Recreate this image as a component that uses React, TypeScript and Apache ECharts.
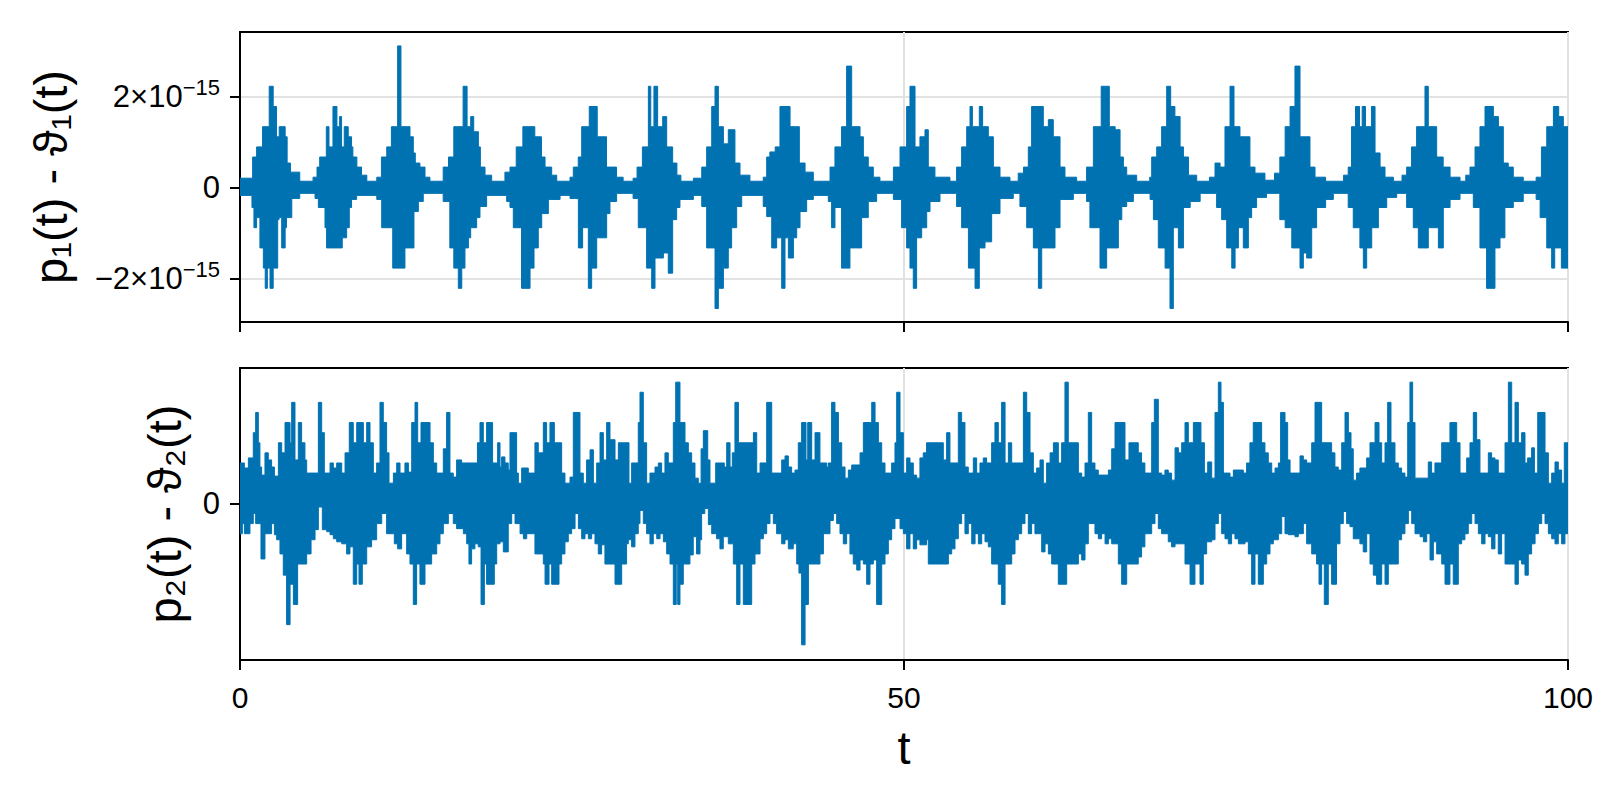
import React, { useEffect, useRef } from "react";
import * as echarts from "echarts";

const EPS = 2.220446049250313e-16;

const X_TICKS = [0, 50, 100];
const TOP_Y_TICKS = [-2e-15, 0, 2e-15];
const BOTTOM_Y_TICKS = [0];

// p1(t) - θ1(t): upper envelope [t, value in EPS units]
const TOP_UPPER: [number, number][] = [
  [0, 0.9], [0.95, 3], [1.25, 4], [1.7, 6], [2.2, 10], [2.5, 8], [2.75, 5], [2.95, 6], [3.4, 5], [3.55, 2.4], [3.8, 1.5], [4.5, 0.6],
  [5.5, 1], [5.8, 2], [6.0, 3], [6.5, 6], [6.7, 4], [7.0, 8], [7.3, 6], [7.5, 7], [7.65, 4], [7.85, 6], [8.15, 5], [8.4, 4], [8.5, 3], [8.8, 2], [9.15, 1.2], [9.55, 0.6],
  [10.3, 1], [10.65, 3], [11.05, 4], [11.4, 6], [11.87, 14], [12.12, 6], [12.8, 5], [13.05, 3.4], [13.2, 2.4], [13.55, 2], [13.93, 1], [14.3, 0.6],
  [15.3, 2], [15.7, 3], [16.1, 6], [16.8, 10], [17.1, 6], [17.37, 7], [17.6, 5.5], [17.95, 4], [18.1, 2], [18.45, 1.2], [18.95, 0.6],
  [19.95, 1.5], [20.33, 2], [20.8, 4], [21.3, 6], [22.2, 5], [22.7, 3], [22.97, 2], [23.47, 1.2], [23.85, 0.6],
  [24.85, 1], [25.1, 2], [25.47, 3], [25.73, 6], [26.3, 8], [26.9, 5], [27.6, 2], [28.35, 1], [28.85, 0.6],
  [29.6, 0.9], [29.9, 2], [30.3, 4], [30.75, 10], [30.93, 6], [31.17, 10], [31.45, 6], [31.83, 7], [32.13, 4], [32.58, 2.4], [32.9, 1.2], [33.2, 0.6],
  [34.14, 0.9], [34.77, 2], [35.14, 4], [35.52, 8], [35.77, 10], [36.02, 6], [36.4, 4.3], [36.77, 5.7], [37.27, 2.4], [37.65, 1.2], [38.4, 0.6],
  [39.4, 1], [39.66, 3], [39.9, 3.5], [40.3, 4], [40.66, 8], [41.42, 6], [42.12, 2.4], [42.55, 1.5], [43.17, 0.6],
  [44.43, 2], [44.8, 4], [45.3, 6], [45.68, 12], [46.06, 6], [46.69, 5], [46.94, 3], [47.31, 2], [47.69, 1], [48.19, 0.6],
  [49.2, 2], [49.7, 4], [50.2, 8], [50.45, 10], [50.83, 4], [51.2, 5], [51.58, 5.7], [51.83, 2], [52.33, 1], [53.46, 0.6],
  [53.96, 2], [54.34, 4], [54.72, 6], [54.97, 8], [55.15, 6], [55.67, 8], [55.92, 6], [56.35, 5], [56.73, 2], [57.23, 1], [57.98, 0.6],
  [58.6, 1.4], [59.0, 2], [59.36, 4], [59.61, 8], [60.49, 6], [60.87, 6.7], [61.24, 5], [61.75, 2], [62.12, 1], [63.0, 0.6],
  [63.75, 2], [64.26, 6], [64.85, 10], [65.46, 6], [65.9, 5.7], [66.27, 3], [66.52, 2], [66.77, 1.2], [67.52, 0.6],
  [68.5, 1], [68.65, 3], [69.03, 4], [69.4, 6], [69.78, 10], [70.08, 8], [70.4, 7], [70.79, 4], [71.04, 3], [71.42, 1.2], [72.04, 0.6],
  [73.0, 1], [73.42, 2.4], [73.8, 2], [74.17, 6], [74.55, 10], [74.85, 6], [75.3, 5], [76.05, 2], [76.43, 1.4], [77.18, 0.7],
  [77.9, 1.4], [78.3, 3], [78.7, 6], [79.07, 8], [79.44, 12], [79.82, 5], [80.2, 5], [80.57, 2], [80.95, 1], [81.75, 0.6],
  [83.1, 1.2], [83.45, 2], [83.7, 6], [84.0, 8], [84.3, 6], [84.5, 8], [84.75, 6], [85.2, 8], [85.47, 3.4], [85.85, 2], [86.22, 1], [86.85, 0.6],
  [87.5, 1.2], [87.85, 2], [88.22, 4], [88.6, 6], [89.23, 10], [89.48, 6], [90.11, 3], [90.6, 2], [91.12, 1], [91.87, 0.6],
  [92.3, 1.2], [92.62, 2], [93.0, 4], [93.37, 6], [93.75, 8], [94.38, 7], [94.76, 6], [95.13, 2.4], [95.5, 2], [95.88, 1], [96.63, 0.6],
  [97.6, 1], [98.0, 4], [98.4, 6], [98.9, 8], [99.3, 7], [99.65, 6], [100, 6],
];

// p1(t) - θ1(t): lower envelope
const TOP_LOWER: [number, number][] = [
  [0, -0.8], [0.9, -2], [1.05, -4], [1.25, -3], [1.5, -6], [1.76, -8], [1.9, -10], [2.06, -8], [2.26, -10], [2.5, -8], [2.84, -3.2], [2.94, -3], [3.14, -6], [3.4, -4], [3.5, -3], [3.9, -1.1], [4.5, -0.6],
  [5.65, -1.1], [5.9, -2], [6.4, -4], [6.52, -6], [7.7, -5], [8.03, -4], [8.23, -2], [8.4, -1.2], [8.78, -0.8],
  [10.3, -1.2], [10.67, -4], [11.5, -8], [12.42, -6], [13.1, -2.4], [13.43, -1.4], [13.8, -0.6],
  [15.3, -1.4], [15.8, -6], [16.1, -8], [16.44, -10], [16.7, -8], [16.94, -6], [17.2, -5], [17.37, -4], [17.82, -3], [18.07, -1.9], [18.57, -0.8],
  [20.08, -1.4], [20.33, -2], [20.58, -4], [21.2, -10], [21.84, -8], [22.14, -6], [22.46, -4], [22.72, -2.6], [23.22, -1.2], [24.1, -0.8],
  [24.85, -1.1], [25.48, -6], [25.8, -4], [26.23, -10], [26.48, -8], [26.86, -5], [27.61, -2.6], [27.86, -1.4], [28.36, -0.6],
  [29.6, -1.1], [29.99, -4], [30.62, -8], [31.0, -10], [31.25, -7], [31.88, -6.5], [32.25, -8.5], [32.58, -3.2], [32.88, -2], [33.13, -1.2], [34.14, -0.8],
  [34.77, -1.9], [35.14, -6], [35.77, -12], [36.02, -10], [36.4, -8], [36.77, -6], [37.02, -4], [37.4, -1.9], [37.78, -0.8],
  [39.4, -1.9], [39.66, -2.9], [40.04, -6], [40.41, -5], [40.79, -10], [41.04, -5], [41.29, -7], [41.67, -5], [41.92, -4], [42.17, -2.4], [42.67, -1.2], [43.17, -0.8],
  [44.3, -1.4], [44.55, -4], [44.8, -2], [45.3, -8], [45.93, -6], [46.81, -3], [47.31, -1.4], [47.94, -0.6],
  [49.2, -1.2], [49.82, -4], [50.2, -6], [50.45, -8], [50.7, -10], [50.95, -5], [51.33, -4], [51.71, -2.4], [51.96, -1.4], [52.71, -0.6],
  [53.96, -1.9], [54.34, -4], [54.85, -8], [55.35, -10], [55.67, -6], [56.1, -5.4], [56.6, -2.6], [57.23, -1.1], [58.23, -0.6],
  [58.73, -1.9], [59.24, -4], [59.74, -6], [60.12, -10], [60.37, -6], [61.37, -4], [61.75, -1.2], [62.75, -0.6],
  [63.75, -1.4], [64.0, -4], [64.76, -8], [65.26, -6], [66.14, -3.2], [66.4, -1.9], [66.77, -1.4], [67.27, -0.6],
  [68.53, -1.2], [68.78, -3.2], [69.15, -6], [69.66, -8], [70.03, -12], [70.28, -4], [70.66, -6], [71.04, -2], [71.55, -1.4], [72.3, -0.6],
  [73.54, -2], [73.92, -3.2], [74.3, -6], [74.68, -8], [74.93, -6], [75.18, -4], [75.55, -6], [75.93, -3], [76.18, -2], [76.55, -1], [77.3, -0.6],
  [78.3, -3.2], [78.7, -4], [79.2, -6], [79.82, -8], [80.07, -6.5], [80.32, -7], [80.7, -4], [81.07, -2], [81.75, -1.2], [82.33, -0.6],
  [83.45, -2], [83.83, -4], [84.33, -6], [84.59, -8], [84.84, -6], [85.22, -4], [85.72, -2], [86.35, -1], [87.1, -0.6],
  [87.85, -2], [88.35, -4], [88.73, -6], [89.48, -4], [90.24, -6], [90.61, -2], [91.12, -1.2], [91.87, -0.6],
  [92.87, -2], [93.37, -6], [93.87, -10], [94.5, -6], [94.88, -5], [95.25, -2], [95.88, -1.4], [96.63, -0.6],
  [97.6, -1.2], [97.9, -3], [98.4, -6], [98.77, -8], [99.0, -6], [99.5, -8], [100, -8],
];

// p2(t) - θ2(t): upper envelope
const BOTTOM_UPPER: [number, number][] = [
  [0, 4], [0.33, 3.5], [0.63, 4.5], [1.0, 7], [1.18, 9], [1.38, 6], [1.5, 3.6], [1.63, 2.8], [1.88, 5], [2.13, 4.3], [2.38, 3.6], [2.59, 2.7],
  [2.89, 6], [3.14, 5], [3.39, 8], [3.77, 6], [3.89, 10], [4.14, 4.3], [4.39, 8], [4.64, 6], [4.89, 4.3], [5.02, 3], [5.9, 10], [6.15, 7],
  [6.35, 3], [6.78, 4], [7.03, 3.5], [7.28, 4], [7.66, 3], [7.91, 5], [8.23, 8], [8.53, 6], [8.79, 8], [9.29, 6], [9.54, 8], [9.79, 6],
  [10.04, 3], [10.29, 4], [10.54, 10], [10.79, 8], [11.04, 5], [11.22, 2], [11.55, 3], [11.8, 4], [12.05, 3], [12.42, 4], [12.68, 3.1],
  [12.93, 8], [13.18, 10], [13.38, 6], [13.63, 8], [14.31, 6], [14.56, 4], [14.81, 3], [15.31, 5.4], [15.56, 9], [15.81, 3], [16.06, 2.6],
  [16.31, 4.3], [16.69, 4], [17.88, 6], [18.07, 8], [18.32, 6], [18.57, 8], [19.02, 4], [19.4, 6], [19.58, 3.6], [19.7, 4.6], [19.95, 4],
  [20.2, 3.3], [20.33, 7], [20.83, 3], [20.96, 2], [21.21, 3.5], [21.71, 3], [22.21, 6], [22.46, 5], [22.84, 8], [23.09, 6], [23.34, 8],
  [23.67, 6], [24.22, 3], [24.47, 2], [24.85, 2.6], [25.1, 9], [25.6, 3], [25.85, 2], [26.1, 4.3], [26.36, 5.3], [26.61, 2], [26.86, 4],
  [27.11, 7], [27.36, 4.3], [27.61, 8], [27.86, 6.3], [28.24, 4.3], [28.49, 6], [29.29, 2], [29.49, 4], [29.99, 8], [30.12, 11], [30.37, 6],
  [30.62, 2], [30.87, 3], [31.25, 3.6], [31.5, 4], [31.75, 3], [32.0, 5], [32.25, 4], [32.63, 8], [32.81, 12], [33.13, 8], [33.51, 6],
  [33.76, 5], [34.01, 4], [34.26, 2.5], [34.51, 2], [34.72, 5.4], [34.89, 7.2], [35.22, 4.3], [35.39, 2], [35.82, 4], [36.47, 3.6],
  [36.65, 6], [36.9, 3.6], [37.07, 5], [37.27, 10], [37.53, 6], [38.66, 7], [38.91, 3], [39.16, 4], [39.66, 10], [40.04, 3], [40.79, 4.3],
  [41.04, 4.7], [41.29, 3.6], [41.54, 3], [41.79, 3.3], [42.04, 6], [42.29, 8], [42.62, 4.3], [42.75, 8], [43.05, 4.3], [43.3, 7],
  [43.67, 4], [44.18, 3.6], [44.3, 4], [44.55, 10], [44.8, 9], [45.06, 6], [45.31, 3.6], [45.56, 2.5], [45.81, 3.3], [46.06, 3.8],
  [46.69, 5], [46.94, 8], [47.57, 10], [47.82, 8], [48.07, 6], [48.32, 4], [48.57, 3], [49.07, 4], [49.32, 6], [49.45, 11], [49.7, 7],
  [49.95, 3], [50.2, 4.5], [50.45, 4], [50.7, 2.8], [50.95, 2.5], [51.2, 4.5], [51.45, 5], [51.7, 6], [52.96, 4.3], [53.21, 7], [53.46, 4],
  [54.09, 9], [54.34, 8], [54.59, 3.6], [54.84, 3], [55.22, 4.5], [55.47, 3], [55.72, 4], [55.97, 4.5], [56.22, 4], [56.6, 6], [56.85, 8],
  [57.1, 6], [57.35, 10], [57.61, 4], [57.86, 6], [58.11, 4], [58.99, 11], [59.24, 9], [59.49, 5], [59.74, 3], [59.99, 3.5], [60.24, 4.3],
  [60.49, 2], [60.74, 4], [61.0, 5], [61.25, 6], [61.62, 4], [61.87, 6], [62.12, 12], [62.37, 6], [63.13, 3], [63.38, 2.6], [63.63, 4],
  [63.88, 9], [64.13, 4], [64.38, 3.3], [64.63, 2.8], [65.39, 3.3], [65.64, 5.4], [65.89, 8], [66.64, 4.3], [66.94, 6], [67.64, 5],
  [67.89, 4], [68.14, 3], [68.65, 8], [68.85, 10.3], [69.15, 3], [69.4, 2.8], [69.65, 3.3], [69.9, 3], [70.15, 2.3], [70.41, 5.5],
  [70.66, 5], [70.91, 6], [71.16, 8], [71.41, 6], [71.79, 8], [72.36, 6], [72.62, 3], [72.87, 4.1], [73.17, 2.5], [73.42, 9], [73.67, 12],
  [73.87, 10], [74.05, 3], [74.55, 2.6], [74.8, 3.3], [75.55, 3], [75.8, 4], [76.05, 6], [76.3, 8], [76.93, 6], [77.18, 5], [77.43, 4],
  [77.69, 3], [77.94, 3.5], [78.19, 4], [78.36, 9], [78.69, 8], [78.89, 4.3], [79.07, 3], [79.82, 4.7], [80.07, 4.3], [80.32, 4],
  [80.7, 6], [80.95, 10], [81.45, 6], [82.2, 5], [82.45, 3.6], [82.7, 3.3], [82.96, 6], [83.21, 9], [83.46, 7], [83.66, 5.4], [83.83, 2.3],
  [84.08, 3], [84.33, 3.5], [84.84, 4.5], [85.09, 6], [85.47, 8], [85.77, 6], [85.97, 4], [86.22, 6], [86.42, 10], [86.67, 6], [86.97, 4],
  [87.22, 3.5], [87.47, 3], [87.72, 2.6], [87.93, 8], [88.1, 12], [88.3, 8], [88.48, 2.5], [89.48, 4.1], [89.73, 3], [89.98, 4], [90.49, 6],
  [91.11, 8], [91.62, 6], [91.87, 3], [92.37, 4.5], [92.62, 6], [92.87, 9], [93.12, 6.3], [93.37, 3], [94.0, 5], [94.25, 4.5], [94.5, 4.3],
  [94.75, 3], [95.26, 6], [95.51, 12], [95.76, 6], [96.01, 10], [96.26, 6], [96.51, 7], [96.76, 4], [96.96, 4.5], [97.26, 5.5], [97.47, 3],
  [97.72, 9], [98.27, 5], [98.52, 2], [98.77, 3], [99.02, 4.1], [99.27, 3.3], [99.52, 2], [99.72, 6], [100, 6],
];

// p2(t) - θ2(t): lower envelope
const BOTTOM_LOWER: [number, number][] = [
  [0, -3], [0.18, -2], [0.33, -3], [0.75, -2], [1.0, -1], [1.18, -2], [1.58, -5.5], [1.88, -3], [2.38, -2], [2.59, -3.1], [2.76, -3.6],
  [3.01, -5], [3.26, -7.1], [3.51, -12], [3.77, -8], [4.02, -10], [4.34, -6], [5.02, -5], [5.35, -3.6], [5.65, -2.6], [5.9, -0.3],
  [6.2, -2.6], [6.53, -2.8], [6.78, -3.1], [7.03, -3.5], [7.28, -3.8], [7.66, -4], [8.03, -5], [8.28, -4.3], [8.53, -8], [8.79, -6],
  [8.96, -8], [9.21, -6], [9.54, -4.3], [9.91, -3.6], [10.29, -2], [10.67, -1], [11.04, -3], [11.62, -4], [11.87, -4.5], [12.17, -3],
  [12.55, -5], [12.8, -6], [13.05, -10], [13.3, -6], [13.55, -8], [13.93, -6], [14.43, -5], [14.81, -4], [15.06, -3], [15.31, -2],
  [15.69, -1], [16.06, -2], [16.31, -2.5], [16.82, -3], [17.07, -4], [17.24, -6], [17.44, -4.5], [17.69, -4], [17.94, -4.3], [18.15, -10],
  [18.4, -6], [18.57, -8], [19.15, -6], [19.33, -4], [19.58, -3.8], [19.83, -4.8], [20.2, -2], [20.46, -1], [20.71, -2], [21.09, -3],
  [21.34, -3.5], [21.59, -3], [22.21, -5], [22.84, -6], [22.97, -8], [23.27, -6], [23.47, -8], [24.02, -6], [24.22, -5], [24.47, -3.8],
  [24.72, -3], [24.97, -2.5], [25.23, -1], [25.48, -2.5], [25.73, -3.5], [25.98, -3], [26.23, -3.5], [26.48, -3], [26.73, -4], [26.98, -5],
  [27.23, -4.1], [27.48, -6], [28.24, -8], [28.74, -6], [29.11, -4], [29.24, -3.6], [29.49, -4.3], [29.74, -3], [29.99, -2], [30.12, -0.7],
  [30.37, -2], [30.62, -3], [30.87, -4], [31.12, -3], [31.38, -3.5], [31.63, -3], [31.88, -3.8], [32.13, -5], [32.38, -6], [32.63, -10],
  [32.85, -6], [32.96, -10], [33.13, -8], [33.38, -6], [33.88, -5.1], [34.13, -3.3], [34.38, -5], [34.64, -3.6], [34.76, -1], [35.0, -0.5],
  [35.27, -2.1], [35.52, -3], [35.89, -3.5], [36.14, -4.5], [36.39, -3.3], [36.77, -4], [37.15, -6], [37.4, -10], [37.65, -6], [37.9, -10],
  [38.53, -6], [38.78, -5], [39.16, -3.5], [39.41, -3], [39.66, -2], [39.91, -1], [40.16, -2], [40.41, -3], [40.79, -4], [41.04, -3.6],
  [41.29, -4.5], [41.66, -4], [41.92, -6], [42.09, -6.9], [42.29, -14], [42.55, -10], [42.8, -6], [43.67, -5], [43.93, -3], [44.43, -1.7],
  [44.68, -1], [44.93, -2], [45.18, -3], [45.43, -4], [45.68, -3], [45.93, -5], [46.18, -6], [46.44, -6.6], [46.69, -5.6], [46.94, -6],
  [47.19, -8], [47.44, -6], [47.69, -5.6], [47.94, -10], [48.32, -6], [48.57, -5], [48.82, -3.6], [49.07, -2.5], [49.32, -1.5], [49.7, -2.5],
  [49.95, -3], [50.2, -4.5], [50.45, -3], [50.7, -4.5], [50.95, -3.6], [51.2, -4.1], [51.7, -3.6], [51.83, -6], [53.34, -5], [53.59, -4.5],
  [53.84, -3.5], [54.09, -2], [54.34, -1], [54.59, -3], [54.84, -2], [55.1, -4], [55.35, -3], [55.6, -4], [55.85, -3], [56.1, -3.8],
  [56.35, -4.3], [56.6, -6], [57.1, -8], [57.35, -10], [57.61, -6], [58.11, -5], [58.36, -3.6], [58.61, -3], [58.86, -2], [59.11, -1],
  [59.36, -3], [59.61, -2], [59.86, -3], [60.37, -4.8], [60.62, -4], [60.87, -5], [61.12, -6], [61.62, -8], [62.25, -6], [63.13, -5],
  [63.38, -5.6], [63.63, -4], [63.88, -2], [64.38, -3], [64.63, -3.5], [64.88, -3], [65.14, -4], [65.39, -3.5], [65.64, -4], [66.14, -6],
  [66.39, -8], [66.77, -6], [67.64, -5.3], [67.89, -4.3], [68.14, -3], [68.65, -2], [68.9, -1], [69.15, -2.5], [69.4, -3], [69.9, -3.8],
  [70.15, -4.3], [70.41, -4], [71.16, -6], [71.54, -8], [71.91, -6], [72.29, -8], [72.54, -5], [72.79, -3.8], [73.17, -3.6], [73.42, -2],
  [73.67, -1], [73.92, -3], [74.17, -3.5], [74.42, -4], [74.67, -3], [74.92, -3.5], [75.18, -4], [75.68, -3.8], [75.93, -5], [76.18, -8],
  [76.43, -5], [76.68, -8], [77.06, -6], [77.31, -5], [77.56, -4], [77.81, -3.6], [78.19, -3], [78.44, -1.3], [78.69, -3], [78.94, -3.1],
  [79.44, -3.3], [79.69, -3], [80.07, -2], [80.32, -4], [80.7, -5], [81.07, -6], [81.25, -8], [81.45, -6], [81.65, -10], [81.95, -6],
  [82.2, -8], [82.57, -4], [82.83, -2], [83.08, -0.8], [83.33, -2], [83.58, -2.3], [83.83, -3.5], [84.33, -4], [84.58, -4.8], [84.84, -3],
  [85.09, -6], [85.34, -7.1], [85.59, -8], [85.97, -6], [86.22, -8], [86.47, -6], [87.22, -3.6], [87.47, -3], [87.72, -2], [87.98, -0.7],
  [88.23, -2], [88.48, -3], [88.86, -3.3], [89.11, -3.8], [89.36, -3], [89.61, -5.6], [89.86, -3.8], [90.11, -5], [90.49, -6], [90.74, -8],
  [91.11, -6], [91.36, -8], [91.74, -4], [91.99, -3.6], [92.24, -3], [92.49, -2], [92.75, -1], [93.0, -2], [93.25, -3], [93.5, -4],
  [93.75, -3], [94.0, -3.3], [94.25, -4.5], [94.5, -3], [94.75, -5], [95.0, -3], [95.26, -6], [96.01, -8], [96.26, -5.6], [96.51, -6],
  [96.76, -7.1], [97.01, -5], [97.26, -4], [97.52, -3], [97.77, -2], [98.02, -1], [98.27, -2], [98.52, -3], [98.77, -3.5], [99.02, -4],
  [99.27, -3], [99.52, -4], [99.77, -3], [100, -3],
];

const BLUE = "#0072b2";
const GRID_GRAY = "#e2e2e2";
const FONT = "'Liberation Sans', Arial, Helvetica, sans-serif";

function toSeries(d: [number, number][]) {
  return d.map(([t, k]) => [t, k * EPS]);
}

// upper envelope fills down to slightly below zero, lower fills up to slightly
// above zero, so the two fills overlap and leave no seam along the zero line
function envelope(data: [number, number][], idx: number, upper: boolean) {
  return {
    type: "line",
    xAxisIndex: idx,
    yAxisIndex: idx,
    data: toSeries(data),
    step: "end",
    symbol: "none",
    silent: true,
    lineStyle: { color: BLUE, width: 1 },
    areaStyle: { color: BLUE, opacity: 1, origin: (upper ? -0.4 : 0.4) * EPS },
    z: 3,
  };
}

export default function App() {
  const ref = useRef<HTMLDivElement>(null);
  useEffect(() => {
    if (!ref.current) return;
    const chart = echarts.init(ref.current, null, { renderer: "svg" });
    const axisLine = { show: true, onZero: false, lineStyle: { color: "#000", width: 2 } };
    const tick = { show: true, inside: false, length: 10, lineStyle: { color: "#000", width: 2 } };
    const nameStyle = { fontSize: 47, color: "#000", fontFamily: FONT };
    chart.setOption({
      animation: false,
      backgroundColor: "#fff",
      grid: [
        { left: 240, top: 32, width: 1328, height: 290, show: true, borderColor: "#000", borderWidth: 2, backgroundColor: "transparent" },
        { left: 240, top: 368, width: 1328, height: 292, show: true, borderColor: "#000", borderWidth: 2, backgroundColor: "transparent" },
      ],
      xAxis: [
        {
          type: "value", gridIndex: 0, min: X_TICKS[0], max: X_TICKS[2], interval: 50,
          axisLine, axisTick: tick, axisLabel: { show: false },
          splitLine: { show: true, lineStyle: { color: GRID_GRAY, width: 2 } },
        },
        {
          type: "value", gridIndex: 1, min: X_TICKS[0], max: X_TICKS[2], interval: 50,
          axisLine, axisTick: tick,
          axisLabel: { show: true, margin: 22, fontSize: 30, color: "#000", fontFamily: FONT, showMinLabel: true, showMaxLabel: true },
          splitLine: { show: true, lineStyle: { color: GRID_GRAY, width: 2 } },
          name: "t", nameLocation: "middle", nameGap: 64,
          nameTextStyle: nameStyle,
        },
      ],
      yAxis: [
        {
          type: "value", gridIndex: 0, min: -2.961e-15, max: 3.414e-15,
          axisLine,
          axisTick: { ...tick, customValues: TOP_Y_TICKS },
          axisLabel: {
            show: true, customValues: TOP_Y_TICKS, margin: 20, color: "#000", fontFamily: FONT, fontSize: 31,
            formatter: (v: number) => (v === 0 ? "0" : v > 0 ? "{b|2×10}{s|−15}" : "{b|−2×10}{s|−15}"),
            rich: {
              b: { fontSize: 31, lineHeight: 40, fontFamily: FONT, color: "#000" },
              s: { fontSize: 22, lineHeight: 22, verticalAlign: "top", fontFamily: FONT, color: "#000" },
            },
          },
          splitLine: { show: true, lineStyle: { color: GRID_GRAY, width: 2 } },
          name: "p₁(t) - ϑ₁(t)", nameLocation: "middle", nameGap: 166, nameRotate: 90,
          nameTextStyle: nameStyle,
        },
        {
          type: "value", gridIndex: 1, min: -15.5 * EPS, max: 13.4 * EPS,
          axisLine,
          axisTick: { ...tick, customValues: BOTTOM_Y_TICKS },
          axisLabel: { show: true, customValues: BOTTOM_Y_TICKS, margin: 20, color: "#000", fontFamily: FONT, fontSize: 31, formatter: () => "0" },
          splitLine: { show: true, lineStyle: { color: GRID_GRAY, width: 2 } },
          name: "p₂(t) - ϑ₂(t)", nameLocation: "middle", nameGap: 52, nameRotate: 90,
          nameTextStyle: nameStyle,
        },
      ],
      series: [
        envelope(TOP_UPPER, 0, true),
        envelope(TOP_LOWER, 0, false),
        envelope(BOTTOM_UPPER, 1, true),
        envelope(BOTTOM_LOWER, 1, false),
      ],
    });
    return () => chart.dispose();
  }, []);
  return <div ref={ref} style={{ position: "absolute", left: 0, top: 0, width: 1600, height: 800 }} />;
}
